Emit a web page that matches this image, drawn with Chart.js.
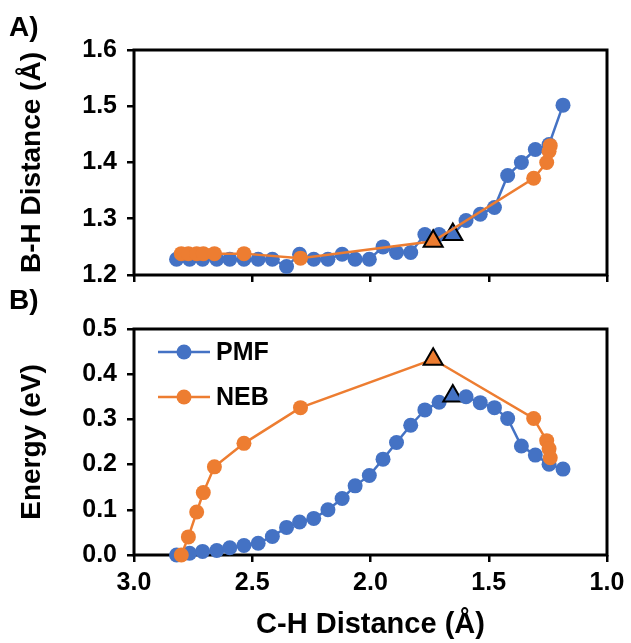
<!DOCTYPE html>
<html>
<head>
<meta charset="utf-8">
<script src="https://cdn.jsdelivr.net/npm/chart.js@4"></script>
<style>
    body { margin: 0; background: #fff; }
    #wrap { position: relative; width: 631px; height: 643px; }
    canvas { position: absolute; left: 0; }
    .tag { position: absolute; left: 9px; font: bold 28px "Liberation Sans", Arial, sans-serif; line-height: 1; }
</style>
</head>
<body>
<div id="wrap">
    <canvas id="chartA" width="631" height="300" style="top:0"></canvas>
    <canvas id="chartB" width="631" height="353" style="top:290px"></canvas>
    <div class="tag" style="top:13px">A)</div>
    <div class="tag" style="top:286px">B)</div>
</div>
<script>
// C-H distance (Å) of each PMF window and each NEB image
const chPMF = [2.82, 2.765, 2.71, 2.65, 2.595, 2.535, 2.475, 2.415, 2.355, 2.30, 2.24, 2.18, 2.12, 2.065, 2.005,
    1.947, 1.89, 1.83, 1.77, 1.71, 1.652, 1.596, 1.536, 1.476, 1.42, 1.362, 1.303, 1.245, 1.186];
const chNEB = [2.80, 2.77, 2.735, 2.707, 2.66, 2.535, 2.296, 1.735, 1.31, 1.255, 1.245, 1.24];

// B-H distance (Å)
const bhPMF = [1.228, 1.228, 1.228, 1.228, 1.228, 1.228, 1.228, 1.228, 1.215, 1.237, 1.228, 1.228, 1.237, 1.228, 1.228,
    1.250, 1.240, 1.240, 1.272, 1.272, 1.272, 1.297, 1.308, 1.320, 1.377, 1.400, 1.423, 1.432, 1.502];
const bhNEB = [1.238, 1.238, 1.238, 1.238, 1.238, 1.238, 1.230, 1.260, 1.372, 1.400, 1.420, 1.430];

// energy (eV)
const ePMF = [0.000, 0.004, 0.008, 0.010, 0.016, 0.021, 0.026, 0.041, 0.061, 0.073, 0.081, 0.100, 0.125, 0.153, 0.176,
    0.212, 0.249, 0.287, 0.321, 0.338, 0.352, 0.350, 0.337, 0.326, 0.302, 0.241, 0.221, 0.201, 0.190];
const eNEB = [0.000, 0.040, 0.095, 0.138, 0.195, 0.247, 0.326, 0.433, 0.302, 0.253, 0.235, 0.215];

// index of the transition state (triangle marker)
const tsPMF = 20;
const tsNEB = 7;

const BLUE = '#4472C4';
const ORANGE = '#ED7D31';
const FONT = '"Liberation Sans", Arial, sans-serif';

Chart.defaults.font.family = FONT;
Chart.defaults.font.weight = 'bold';
Chart.defaults.color = '#000';

const series = (label, xs, ys, color, ts, order) => ({
    label,
    order,
    data: xs.map((x, i) => ({ x, y: ys[i] })),
    borderColor: color,
    backgroundColor: color,
    borderWidth: 2.5,
    pointBackgroundColor: color,
    pointRadius: c => c.dataIndex === ts ? 11 : 7.5,
    pointStyle: c => c.dataIndex === ts ? 'triangle' : 'circle',
    pointBorderColor: c => c.dataIndex === ts ? '#000' : color,
    pointBorderWidth: c => c.dataIndex === ts ? 2 : 0,
    clip: false,
    tension: 0,
});

const boxPlugin = {
    id: 'box',
    beforeDatasetsDraw(chart) {
        const { ctx, chartArea: a } = chart;
        ctx.save();
        ctx.strokeStyle = '#000';
        ctx.lineWidth = 3;
        ctx.strokeRect(a.left, a.top, a.right - a.left, a.bottom - a.top);
        ctx.restore();
    }
};

// legend sits inside the plot, top-left
const legendPlugin = {
    id: 'insideLegend',
    afterDatasetsDraw(chart) {
        const ctx = chart.ctx;
        const a = chart.chartArea;
        ctx.save();
        ctx.font = 'bold 25px ' + FONT;
        ctx.textBaseline = 'middle';
        chart.data.datasets.forEach((ds, i) => {
            const y = a.top + 23 + i * 45;
            const x0 = a.left + 24;
            ctx.strokeStyle = ds.borderColor;
            ctx.lineWidth = 2.5;
            ctx.beginPath();
            ctx.moveTo(x0, y);
            ctx.lineTo(x0 + 52, y);
            ctx.stroke();
            ctx.fillStyle = ds.borderColor;
            ctx.beginPath();
            ctx.arc(x0 + 26, y, 7.5, 0, Math.PI * 2);
            ctx.fill();
            ctx.fillStyle = '#000';
            ctx.fillText(ds.label, x0 + 58, y + 1);
        });
        ctx.restore();
    }
};

const xScale = (labels, height) => ({
    type: 'linear',
    reverse: true,
    min: 1,
    max: 3,
    afterFit: s => { s.height = height; },
    ticks: { display: labels, stepSize: 0.5, callback: v => v.toFixed(1), padding: 6, font: { size: 25 } },
    grid: { drawOnChartArea: false, color: '#000', lineWidth: 2.5, tickLength: 7 },
    border: { display: false },
    title: {
        display: labels,
        text: 'C-H Distance (Å)',
        font: { size: 29 },
        padding: { top: 0, bottom: 1 }
    }
});

const yScale = (min, max, title) => ({
    min,
    max,
    afterFit: s => { s.width = 134; },
    ticks: { stepSize: 0.1, callback: v => v.toFixed(1), padding: 10, font: { size: 25 } },
    grid: { drawOnChartArea: false, color: '#000', lineWidth: 2.5, tickLength: 7 },
    border: { display: false },
    title: { display: true, text: title, font: { size: 28 }, padding: { top: 15, bottom: 0 } }
});

const baseOptions = (x, y, padTop) => ({
    responsive: false,
    animation: false,
    events: [],
    layout: { padding: { left: 0, right: 24, top: padTop, bottom: 0 } },
    scales: { x, y },
    plugins: { legend: { display: false }, tooltip: { enabled: false } }
});

new Chart(document.getElementById('chartA').getContext('2d'), {
    type: 'line',
    data: {
        datasets: [
            series('PMF', chPMF, bhPMF, BLUE, tsPMF, 2),
            series('NEB', chNEB, bhNEB, ORANGE, tsNEB, 1),
        ]
    },
    options: baseOptions(xScale(false, 22), yScale(1.2, 1.6, 'B-H Distance (Å)'), 50),
    plugins: [boxPlugin]
});

new Chart(document.getElementById('chartB').getContext('2d'), {
    type: 'line',
    data: {
        datasets: [
            series('PMF', chPMF, ePMF, BLUE, tsPMF, 2),
            series('NEB', chNEB, eNEB, ORANGE, tsNEB, 1),
        ]
    },
    options: baseOptions(xScale(true, 88), yScale(0, 0.5, 'Energy (eV)'), 39),
    plugins: [boxPlugin, legendPlugin]
});
</script>
</body>
</html>
